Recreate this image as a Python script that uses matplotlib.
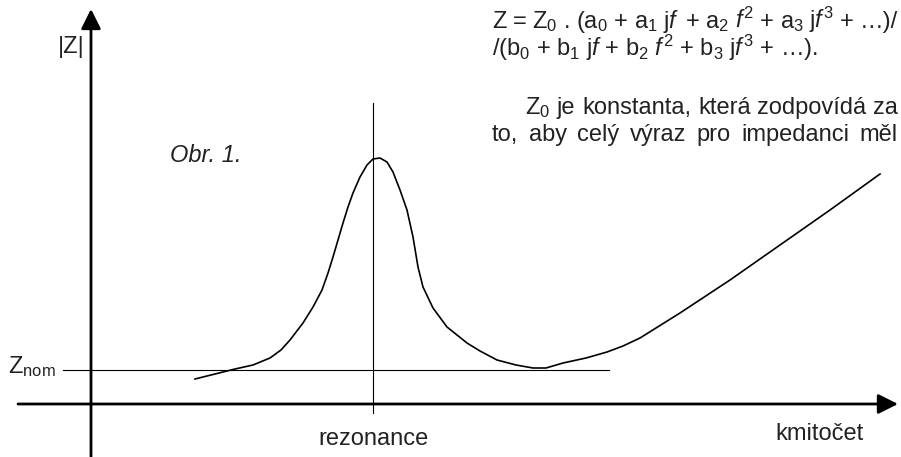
import matplotlib
matplotlib.use("Agg")
import matplotlib.pyplot as plt

plt.rcParams["font.family"] = ["Liberation Sans", "DejaVu Sans"]
plt.rcParams["mathtext.fontset"] = "custom"
plt.rcParams["mathtext.rm"] = "Liberation Sans"
plt.rcParams["mathtext.it"] = "Liberation Sans:italic"

INK = "#222222"

# impedance curve |Z| over frequency (arbitrary units)
freq = [10.4, 14.4, 16.2, 17.9, 19.0, 19.9, 21.2, 22.2, 23.1, 23.7, 24.2, 24.7,
        25.2, 25.7, 26.2, 26.9, 27.6, 28.2, 28.9, 29.6, 30.2, 30.9, 31.6, 32.2,
        32.7, 33.2, 34.2, 35.6, 37.6, 38.9, 40.6, 42.5, 44.2, 45.5, 47.2, 49.5,
        51.6, 53.2, 54.9, 58.9, 63.9, 68.9, 73.9, 78.9]
impedance = [2.5, 3.5, 3.9, 4.6, 5.4, 6.4, 8.1, 9.7, 11.4, 13.1, 14.7, 16.4,
             18.1, 19.7, 21.1, 22.7, 23.9, 24.5, 24.6, 24.2, 23.2, 21.4, 19.4, 16.7,
             13.7, 11.7, 9.6, 7.7, 6.1, 5.3, 4.4, 3.9, 3.6, 3.6, 4.1, 4.6,
             5.2, 5.8, 6.6, 9.1, 12.4, 15.9, 19.4, 23.0]

z_nom = 3.4
f_res = 28.2
nom_span = (-2.8, 51.8)
res_span = (-0.9, 30.1)

formula = [
    r"Z = Z$_0$ . (a$_0$ + a$_1$ j$f$ + a$_2$ $f^2$ + a$_3$ j$f^3$ + …)/",
    r"/(b$_0$ + b$_1$ j$f$ + b$_2$ $f^2$ + b$_3$ j$f^3$ + …).",
    r"Z$_0$ je konstanta, která zodpovídá za",
    "to, aby celý výraz pro impedanci měl",
]

fig = plt.figure(figsize=(9.01, 4.57), dpi=100)
ax = fig.add_axes([0, 0, 1, 1])
ax.set_xlim(-9.1, 81.0)
ax.set_ylim(-5.3, 40.4)
ax.axis("off")

# axes with arrows
arrow = dict(arrowstyle="-|>,head_length=0.8,head_width=0.4", lw=2.0,
             color="black", mutation_scale=15, shrinkA=0, shrinkB=0)
ax.annotate("", xy=(80.7, 0), xytext=(-7.3, 0), arrowprops=arrow)
ax.annotate("", xy=(0, 39.5), xytext=(0, -5.3), arrowprops=arrow)

# reference lines
ax.plot(nom_span, [z_nom, z_nom], color="black", lw=0.8)
ax.plot([f_res, f_res], res_span, color="black", lw=0.8)

ax.plot(freq, impedance, color="black", lw=1.2, solid_joinstyle="round")

fs = 17
ax.text(-2.0, 35.7, "|Z|", fontsize=fs, color=INK, ha="center", va="center")
ax.text(-8.3, 3.1, r"Z$_{\mathrm{nom}}$", fontsize=fs, color=INK,
        ha="left", va="baseline")
ax.text(7.9, 24.2, "Obr. 1.", fontsize=fs, color=INK, style="italic",
        ha="left", va="baseline")
ax.text(f_res, -4.1, "rezonance", fontsize=fs, color=INK,
        ha="center", va="baseline")
ax.text(68.4, -3.6, "kmitočet", fontsize=fs, color=INK,
        ha="left", va="baseline")


def justify(line, x0, x1, y):
    """Spread the words of a line evenly between x0 and x1."""
    renderer = fig.canvas.get_renderer()
    words = [ax.text(x0, y, w, fontsize=fs, color=INK, ha="left", va="baseline")
             for w in line.split(" ")]
    widths = [w.get_window_extent(renderer).width for w in words]
    px0 = ax.transData.transform((x0, y))[0]
    px1 = ax.transData.transform((x1, y))[0]
    gap = (px1 - px0 - sum(widths)) / (len(words) - 1)
    pos = px0
    for w, width in zip(words, widths):
        w.set_x(ax.transData.inverted().transform((pos, 0))[0])
        pos += width + gap


justify(formula[0], 40.1, 80.7, 37.6)
ax.text(40.1, 34.8, formula[1], fontsize=fs, color=INK, ha="left", va="baseline")
justify(formula[2], 43.4, 80.7, 29.0)
justify(formula[3], 40.1, 80.7, 26.3)

fig.savefig("out.png", dpi=100, facecolor="white")
